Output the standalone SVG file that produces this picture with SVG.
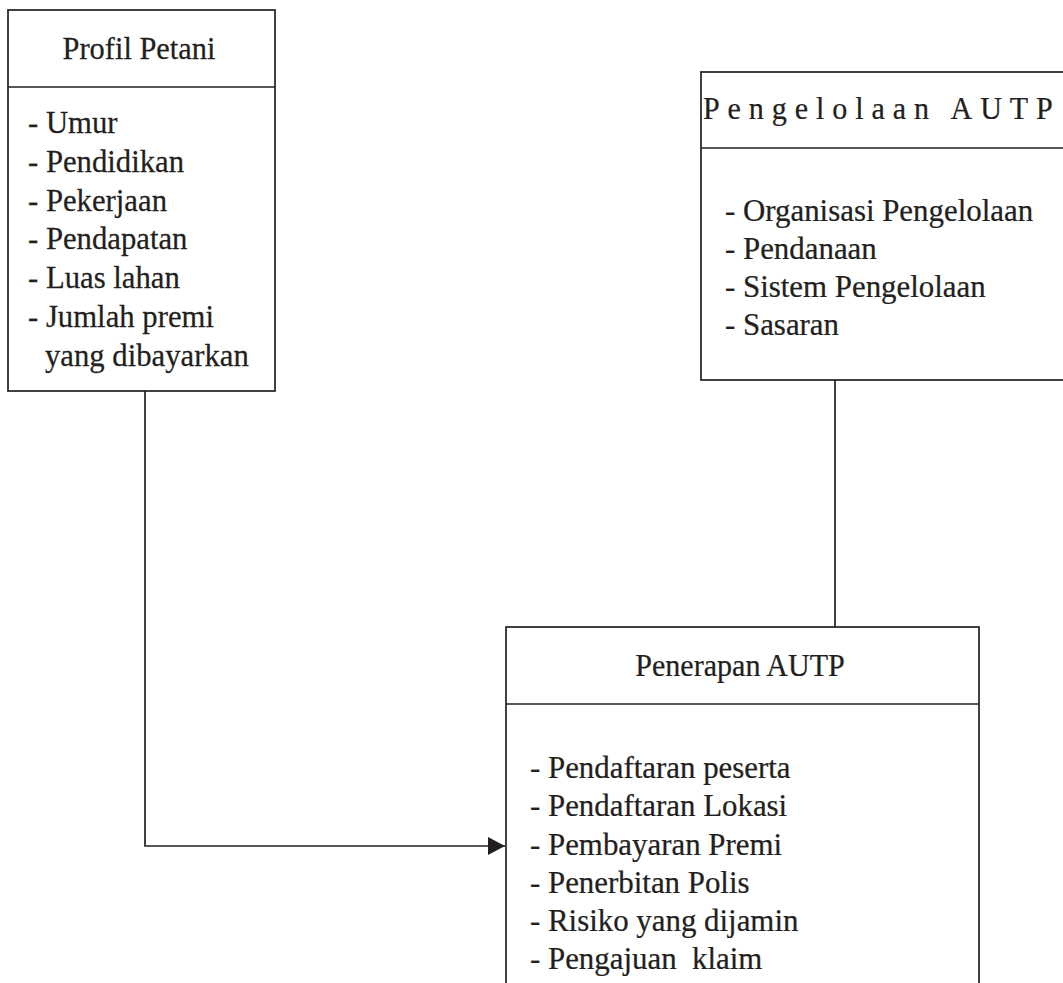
<svg xmlns="http://www.w3.org/2000/svg" width="1063" height="983" viewBox="0 0 1063 983">
<defs>
<style>
.box{fill:#ffffff;stroke:#231f20;stroke-width:1.7}
.ln{fill:none;stroke:#231f20;stroke-width:1.7}
text{font-family:"Liberation Serif","Times New Roman",serif;font-size:32px;fill:#231f20;stroke:#231f20;stroke-width:0.25}
</style>
<marker id="arr" markerWidth="18" markerHeight="18" refX="17" refY="9" orient="auto" markerUnits="userSpaceOnUse">
<path d="M0,0 L17,9 L0,18 Z" fill="#231f20"/>
</marker>
</defs>
<rect width="1063" height="983" fill="#ffffff"/>
<g id="connectors">
<polyline class="ln" points="145,391 145,846 505,846" marker-end="url(#arr)"/>
<line class="ln" x1="835" y1="380" x2="835" y2="627"/>
</g>
<g id="profil-petani">
<rect class="box" x="8" y="10" width="267" height="381"/>
<line class="ln" x1="8" y1="87" x2="275" y2="87"/>
<text transform="translate(139,59) scale(0.95,1)" text-anchor="middle">Profil Petani</text>
<text transform="translate(28,0) scale(0.96,1)">
<tspan x="0" y="133">- Umur</tspan>
<tspan x="0" y="171.8">- Pendidikan</tspan>
<tspan x="0" y="210.6">- Pekerjaan</tspan>
<tspan x="0" y="249.4">- Pendapatan</tspan>
<tspan x="0" y="288.2">- Luas lahan</tspan>
<tspan x="0" y="327">- Jumlah premi</tspan>
<tspan x="17.7" y="365.8">yang dibayarkan</tspan>
</text>
</g>
<g id="pengelolaan-autp">
<rect class="box" x="701" y="72" width="370" height="308"/>
<line class="ln" x1="701" y1="148" x2="1071" y2="148"/>
<text transform="translate(703,119) scale(0.94,1)" letter-spacing="8.4">Pengelolaan AUTP</text>
<text transform="translate(725,0) scale(0.965,1)">
<tspan x="0" y="221">- Organisasi Pengelolaan</tspan>
<tspan x="0" y="259">- Pendanaan</tspan>
<tspan x="0" y="297">- Sistem Pengelolaan</tspan>
<tspan x="0" y="335">- Sasaran</tspan>
</text>
</g>
<g id="penerapan-autp">
<rect class="box" x="506" y="627" width="473" height="370"/>
<line class="ln" x1="506" y1="704" x2="979" y2="704"/>
<text transform="translate(740,676) scale(0.94,1)" text-anchor="middle">Penerapan AUTP</text>
<text transform="translate(530,0) scale(0.965,1)">
<tspan x="0" y="778">- Pendaftaran peserta</tspan>
<tspan x="0" y="816">- Pendaftaran Lokasi</tspan>
<tspan x="0" y="855">- Pembayaran Premi</tspan>
<tspan x="0" y="893">- Penerbitan Polis</tspan>
<tspan x="0" y="931">- Risiko yang dijamin</tspan>
<tspan x="0" y="969">- Pengajuan&#160; klaim</tspan>
</text>
</g>
</svg>
